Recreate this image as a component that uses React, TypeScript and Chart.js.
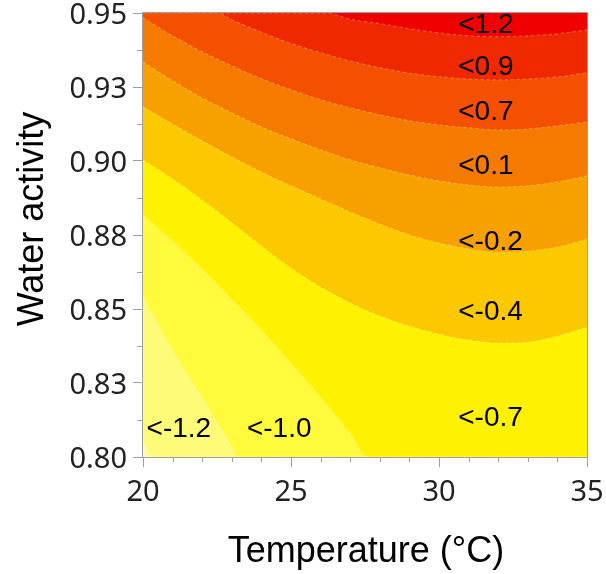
import React, { useEffect, useRef } from 'react';
import { Chart, registerables } from 'chart.js';

Chart.register(...registerables);

// ---- Axis ticks ----
const yTickLabels = ['0.80', '0.83', '0.85', '0.88', '0.90', '0.93', '0.95'];
const yMinorTicks = [0.8125, 0.8375, 0.8625, 0.8875, 0.9125, 0.9375];
const xMinorTicks = [21, 22, 23, 24, 26, 27, 28, 29, 31, 32, 33, 34];

// ---- Contour band colours (top band first) ----
const topBandColor = '#F00000';
const bandBelowColors = ['#F02800', '#F55000', '#F57A00', '#F8A000', '#FCC800', '#FFF200', '#FFFA3C', '#FFFA78', '#FFFCAA'];

// ---- Contour boundaries: temperature (°C) and water activity ----
const b1Temp = [20, 26.2, 27, 28, 29, 30, 31, 32, 33, 34, 35];
const b1Aw = [0.95, 0.95, 0.9479, 0.9464, 0.9447, 0.9433, 0.9423, 0.942, 0.9423, 0.943, 0.9443];

const b2Temp = [20, 22.5, 23, 24, 25, 26, 27, 28, 29, 30, 31, 32, 33, 34, 35];
const b2Aw = [0.95, 0.95, 0.9477, 0.9435, 0.9397, 0.9366, 0.9338, 0.9315, 0.9297, 0.9285, 0.9277, 0.9274, 0.9277, 0.9284, 0.9298];

const b3Temp = [20, 21, 22, 23, 24, 25, 26, 27, 28, 29, 30, 31, 32, 33, 34, 35];
const b3Aw = [0.9484, 0.9423, 0.9369, 0.9322, 0.9278, 0.9241, 0.9207, 0.918, 0.9156, 0.9136, 0.9122, 0.9112, 0.9105, 0.9108, 0.9119, 0.9132];

const b4Temp = [20, 21, 22, 23, 24, 25, 26, 27, 28, 29, 30, 31, 32, 33, 34, 35];
const b4Aw = [0.9335, 0.9271, 0.9213, 0.9163, 0.9115, 0.9075, 0.9038, 0.9004, 0.8977, 0.8953, 0.8933, 0.8919, 0.8912, 0.8916, 0.8929, 0.895];

const b5Temp = [20, 21, 22, 23, 24, 25, 26, 27, 28, 29, 30, 31, 32, 33, 34, 35];
const b5Aw = [0.9183, 0.9125, 0.9068, 0.9014, 0.8963, 0.8916, 0.8872, 0.8828, 0.8787, 0.875, 0.8723, 0.8703, 0.8692, 0.8696, 0.8709, 0.8736];

const b6Temp = [20, 21, 22, 23, 24, 25, 26, 27, 28, 29, 30, 31, 32, 33, 34, 35];
const b6Aw = [0.9004, 0.8939, 0.8868, 0.8791, 0.8713, 0.8638, 0.8574, 0.852, 0.8476, 0.8442, 0.8415, 0.8395, 0.8385, 0.8388, 0.8408, 0.8439];

const b7Temp = [20, 21, 22, 23, 24, 25, 26, 27, 27.6, 35];
const b7Aw = [0.8818, 0.873, 0.8635, 0.8533, 0.8429, 0.8317, 0.8202, 0.808, 0.8, 0.8];

const b8Temp = [20, 21, 22, 23, 23.16, 35];
const b8Aw = [0.854, 0.8361, 0.8199, 0.8033, 0.8, 0.8];

const b9Temp = [20, 20.33, 35];
const b9Aw = [0.8056, 0.8, 0.8];

// ---- Contour labels ----
const levelLabels = ['<1.2', '<0.9', '<0.7', '<0.1', '<-0.2', '<-0.4', '<-0.7', '<-1.0', '<-1.2'];
const labelTemp = [30.65, 30.65, 30.65, 30.65, 30.65, 30.65, 30.65, 23.51, 20.12];
const labelAw = [0.946, 0.9318, 0.9166, 0.8983, 0.8726, 0.849, 0.8131, 0.8094, 0.8094];

const xTitle = 'Temperature (°C)';
const yTitle = 'Water activity';

const boundaries = [
  [b1Temp, b1Aw],
  [b2Temp, b2Aw],
  [b3Temp, b3Aw],
  [b4Temp, b4Aw],
  [b5Temp, b5Aw],
  [b6Temp, b6Aw],
  [b7Temp, b7Aw],
  [b8Temp, b8Aw],
  [b9Temp, b9Aw],
];

const decorPlugin = {
  id: 'decor',
  beforeDatasetsDraw(chart: any) {
    const { ctx, chartArea: a } = chart;
    ctx.save();
    ctx.fillStyle = topBandColor;
    ctx.fillRect(a.left, a.top, a.right - a.left, a.bottom - a.top);
    ctx.restore();
  },
  afterDraw(chart: any) {
    const { ctx, chartArea: a } = chart;
    const xs = chart.scales.x;
    const ys = chart.scales.y;
    ctx.save();
    // contour labels
    ctx.font = '28px "Liberation Sans", Arial, sans-serif';
    ctx.fillStyle = '#000';
    ctx.textAlign = 'left';
    ctx.textBaseline = 'middle';
    levelLabels.forEach((t, i) => {
      ctx.fillText(t, xs.getPixelForValue(labelTemp[i]), ys.getPixelForValue(labelAw[i]));
    });
    // frame
    ctx.strokeStyle = '#A0A0A0';
    ctx.lineWidth = 1;
    ctx.strokeRect(a.left - 0.5, a.top - 0.5, a.right - a.left + 1, a.bottom - a.top + 1);
    // minor ticks
    ctx.beginPath();
    yMinorTicks.forEach((v) => {
      const py = Math.round(ys.getPixelForValue(v)) + 0.5;
      ctx.moveTo(a.left - 6, py);
      ctx.lineTo(a.left, py);
    });
    xMinorTicks.forEach((v) => {
      const px = Math.round(xs.getPixelForValue(v)) + 0.5;
      ctx.moveTo(px, a.bottom);
      ctx.lineTo(px, a.bottom + 5);
    });
    ctx.stroke();
    // axis titles
    ctx.fillStyle = '#000';
    ctx.font = '36px "Liberation Sans", Arial, sans-serif';
    ctx.textAlign = 'center';
    ctx.textBaseline = 'alphabetic';
    ctx.fillText(xTitle, (a.left + a.right) / 2 + 1, a.bottom + 105);
    ctx.save();
    ctx.translate(43, (a.top + a.bottom) / 2 - 16);
    ctx.rotate(-Math.PI / 2);
    ctx.fillText(yTitle, 0, 0);
    ctx.restore();
    ctx.restore();
  },
};

export default function App() {
  const ref = useRef<HTMLCanvasElement | null>(null);

  useEffect(() => {
    if (!ref.current) return;
    const n = boundaries.length;
    const datasets = boundaries.map(([t, aw], i) => ({
      label: 'boundary ' + (i + 1),
      data: t.map((tv, j) => ({ x: tv, y: aw[j] })),
      fill: 'start',
      backgroundColor: bandBelowColors[i],
      borderColor: 'rgba(255,255,255,0.35)',
      borderWidth: 1,
      borderDash: [3, 3],
      pointRadius: 0,
      cubicInterpolationMode: 'monotone',
      order: n - i,
    }));
    const tickFont = { family: "'Noto Sans', 'Open Sans', sans-serif", size: 29 };
    const chart = new Chart(ref.current, {
      type: 'line',
      data: { datasets: datasets as any },
      options: {
        animation: false,
        responsive: false,
        maintainAspectRatio: false,
        layout: { padding: { top: 13, right: 19, left: 0, bottom: 0 } },
        plugins: { legend: { display: false }, tooltip: { enabled: false } },
        scales: {
          x: {
            type: 'linear',
            min: 20,
            max: 35,
            ticks: { stepSize: 5, font: tickFont, color: '#222', padding: 8 },
            grid: { drawOnChartArea: false, drawTicks: true, tickLength: 10, color: '#A0A0A0' },
            border: { display: false },
            afterFit(s: any) {
              s.height = 117;
              s.paddingLeft = 0;
              s.paddingRight = 0;
            },
          },
          y: {
            type: 'linear',
            min: 0.8,
            max: 0.95,
            ticks: {
              stepSize: 0.025,
              font: tickFont,
              color: '#222',
              padding: 6,
              labelOffset: 3,
              callback: (v: any) => yTickLabels[Math.round((Number(v) - 0.8) / 0.025)] ?? '',
            },
            grid: { drawOnChartArea: false, drawTicks: true, tickLength: 10, color: '#A0A0A0' },
            border: { display: false },
            afterFit(s: any) {
              s.width = 143;
              s.paddingTop = 0;
              s.paddingBottom = 0;
            },
          },
        },
      },
      plugins: [decorPlugin],
    });
    return () => chart.destroy();
  }, []);

  return (
    <div style={{ position: 'fixed', left: 0, top: 0, width: 606, height: 574, background: '#fff' }}>
      <canvas ref={ref} width={606} height={574} style={{ display: 'block' }} />
    </div>
  );
}
